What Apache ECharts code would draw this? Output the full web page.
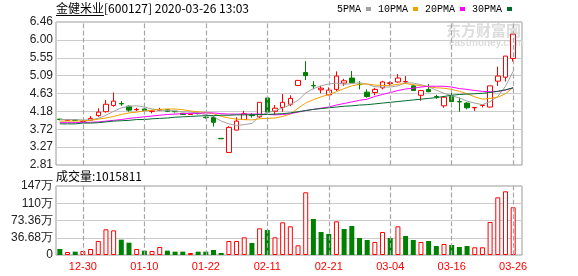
<!DOCTYPE html>
<html><head><meta charset="utf-8">
<script src="https://cdn.jsdelivr.net/npm/echarts/dist/echarts.min.js"></script>
<style>html,body{margin:0;padding:0;background:#fff}#c{width:578px;height:276px}</style>
</head><body><div id="c"></div>
<script>
const dates = ['12-25','12-26','12-27','12-30','12-31','01-02','01-03','01-06','01-07','01-08','01-09','01-10','01-13','01-14','01-15','01-16','01-17','01-20','01-21','01-22','01-23','02-03','02-04','02-05','02-06','02-07','02-10','02-11','02-12','02-13','02-14','02-17','02-18','02-19','02-20','02-21','02-24','02-25','02-26','02-27','02-28','03-02','03-03','03-04','03-05','03-06','03-09','03-10','03-11','03-12','03-13','03-16','03-17','03-18','03-19','03-20','03-23','03-24','03-25','03-26'];
const opens  = [3.98,3.95,3.96,3.92,3.95,4.07,4.17,4.33,4.38,4.31,4.22,4.24,4.18,4.21,4.22,4.18,4.13,4.10,4.13,4.03,4.02,3.49,3.13,3.70,3.97,4.09,4.04,4.52,4.18,4.28,4.36,4.84,5.17,4.84,4.73,4.60,4.74,4.90,5.03,4.87,4.67,4.66,4.78,4.89,4.93,4.93,4.83,4.59,4.74,4.56,4.32,4.56,4.43,4.39,4.27,4.33,4.29,4.95,5.05,5.53];
const closes = [3.97,3.96,3.95,3.93,4.00,4.16,4.36,4.44,4.37,4.21,4.23,4.20,4.19,4.22,4.18,4.17,4.10,4.11,4.12,4.02,3.90,3.48,3.77,3.93,4.12,4.07,4.41,4.16,4.26,4.41,4.51,4.97,5.09,4.83,4.77,4.72,5.08,4.96,4.91,4.86,4.56,4.74,4.93,4.91,5.03,4.94,4.71,4.71,4.68,4.55,4.54,4.43,4.42,4.27,4.28,4.34,4.83,5.08,5.59,6.15];
const lows   = [3.95,3.95,3.94,3.90,3.94,4.04,4.15,4.30,4.32,4.17,4.19,4.19,4.13,4.20,4.16,4.15,4.09,4.09,4.10,3.99,3.79,3.48,3.13,3.70,3.96,4.02,4.01,4.15,4.09,4.17,4.31,4.84,4.98,4.74,4.64,4.59,4.70,4.83,4.90,4.74,4.53,4.59,4.74,4.82,4.91,4.88,4.70,4.45,4.67,4.50,4.27,4.42,4.17,4.23,4.19,4.28,4.28,4.83,4.94,5.45];
const highs  = [3.99,3.96,3.97,3.95,4.06,4.26,4.47,4.66,4.44,4.33,4.27,4.25,4.21,4.27,4.23,4.19,4.14,4.12,4.14,4.05,4.06,3.49,3.80,4.03,4.19,4.13,4.41,4.53,4.34,4.62,4.59,4.97,5.46,4.95,4.83,4.79,5.20,5.01,5.21,4.95,4.74,4.78,4.96,4.94,5.13,5.08,4.85,4.71,4.88,4.60,4.55,4.68,4.53,4.41,4.28,4.34,4.83,5.32,5.59,6.15];
const ma5  = [3.97,3.97,3.97,3.96,3.96,4.00,4.08,4.18,4.27,4.31,4.32,4.29,4.24,4.21,4.20,4.19,4.17,4.16,4.14,4.10,4.05,3.93,3.86,3.82,3.84,3.87,4.06,4.14,4.20,4.26,4.35,4.46,4.65,4.76,4.83,4.88,4.90,4.87,4.89,4.91,4.87,4.81,4.80,4.80,4.83,4.91,4.90,4.86,4.81,4.72,4.64,4.58,4.52,4.44,4.39,4.35,4.43,4.56,4.82,5.20];
const ma10 = [3.93,3.93,3.93,3.94,3.95,3.98,4.01,4.05,4.10,4.14,4.16,4.19,4.21,4.23,4.24,4.24,4.22,4.19,4.17,4.15,4.12,4.05,4.01,3.98,3.97,3.96,3.99,4.00,4.01,4.05,4.11,4.26,4.39,4.48,4.55,4.61,4.68,4.76,4.83,4.87,4.88,4.85,4.84,4.84,4.87,4.89,4.86,4.83,4.81,4.78,4.77,4.74,4.69,4.63,4.55,4.49,4.51,4.54,4.63,4.79];
const ma20 = [3.89,3.89,3.89,3.90,3.90,3.91,3.93,3.95,3.97,4.00,4.02,4.04,4.06,4.08,4.10,4.11,4.12,4.13,4.13,4.14,4.14,4.12,4.11,4.11,4.11,4.11,4.11,4.10,4.09,4.10,4.12,4.16,4.20,4.23,4.26,4.29,4.34,4.38,4.42,4.46,4.49,4.56,4.61,4.66,4.71,4.75,4.77,4.80,4.82,4.82,4.82,4.80,4.76,4.74,4.71,4.69,4.68,4.69,4.72,4.78];
const ma30 = [3.86,3.86,3.86,3.88,3.88,3.89,3.91,3.93,3.94,3.95,3.97,3.97,3.99,4.00,4.01,4.03,4.04,4.05,4.06,4.07,4.07,4.08,4.08,4.09,4.09,4.09,4.10,4.10,4.11,4.12,4.14,4.17,4.20,4.23,4.25,4.27,4.29,4.31,4.32,4.34,4.35,4.37,4.39,4.41,4.43,4.45,4.47,4.49,4.51,4.53,4.56,4.59,4.61,4.62,4.63,4.64,4.66,4.69,4.73,4.78];
const volumes = [12.8,6.4,7.1,8.5,12.8,29.8,54.6,52.4,32.6,26.2,12.8,9.2,8.5,17.0,9.2,7.1,7.1,4.3,7.1,7.1,10.6,4.3,29.8,29.8,37.6,25.5,56.7,53.2,37.6,69.5,61.0,20.6,133.3,76.5,48.9,44.7,71.6,55.3,61.7,36.1,31.9,27.6,48.9,36.1,61.0,40.4,31.9,27.6,29.8,19.1,23.4,21.3,17.0,19.1,16.4,16.4,70.2,122.6,135.4,101.6];
const volDir = ['d','u','d','u','u','u','u','u','d','d','u','d','u','u','d','d','d','u','d','d','d','d','u','u','u','d','u','d','u','u','u','u','u','d','d','d','u','d','d','d','d','u','u','d','u','d','d','u','d','d','u','d','d','d','u','u','u','u','u','u'];
const priceTicks = ['2.81','3.27','3.72','4.18','4.63','5.09','5.55','6.00','6.46'];
const volTicks = ['0','36.68万','73.36万','110万','147万'];
const maNames = ['5PMA','10PMA','20PMA','30PMA'];
const maColors = ['#a0a0a0','#f0a000','#ff00ff','#006a30'];
const titleName = '金健米业';
const titleRest = '[600127] 2020-03-26 13:03';
const volTitle = '成交量:1015811';
const firstLabelIdx = 3, labelStep = 8;
const gridDates = dates.filter((d, i) => (i - firstLabelIdx) % labelStep === 0);

const UP = '#ff0000', DOWN = '#008000';
const tickInt = (idx) => (idx - firstLabelIdx) % labelStep === 0;
const vLines = (yIdx) => ({
  type:'line', name:'grid' + yIdx, xAxisIndex: yIdx, yAxisIndex: yIdx, data: dates.map(()=>null), silent:true, z:1, symbol:'none',
  markLine:{silent:true, symbol:['none','none'], label:{show:false}, animation:false,
    lineStyle:{color:'#a6a6a6', type:'dashed', width:1.2},
    data: gridDates.map(d => ({xAxis: d}))}
});
const chart = echarts.init(document.getElementById('c'), null, {renderer:'canvas'});
const maSeries = [ma5, ma10, ma20, ma30].map((d, k) => ({
  type:'line', name: maNames[k], xAxisIndex:1, yAxisIndex:1, data:d, symbol:'none',
  color: maColors[k], lineStyle:{width:1, color: maColors[k]}, z:3, silent:true
}));
chart.setOption({
  animation:false,
  textStyle:{fontFamily:'Liberation Sans'},
  grid:[
    {left:56, top:22, width:466, height:143, show:true, borderColor:'#999', borderWidth:1, backgroundColor:'rgba(0,0,0,0)'},
    {left:56, top:22, width:461, height:143},
    {left:56, top:186, width:466, height:69, show:true, borderColor:'#999', borderWidth:1, backgroundColor:'rgba(0,0,0,0)'},
    {left:56, top:186, width:461, height:69}
  ],
  legend:{data:maNames, left:337, top:4, align:'right', icon:'rect', itemWidth:5, itemHeight:4, itemGap:7, padding:0, selectedMode:false,
    textStyle:{fontFamily:'Liberation Mono', fontSize:10, color:'#000'}},
  xAxis:[
    {gridIndex:0, type:'value', show:false, min:0, max:1},
    {gridIndex:1, type:'category', data:dates, boundaryGap:true, axisLine:{show:false}, axisTick:{show:false}, axisLabel:{show:false}, splitLine:{show:false}},
    {gridIndex:2, type:'value', show:false, min:0, max:1},
    {gridIndex:3, type:'category', data:dates, boundaryGap:true, axisLine:{show:false}, axisTick:{show:false}, splitLine:{show:false},
      axisLabel:{interval:tickInt, color:'#ff0000', fontSize:11, fontFamily:'Liberation Sans', margin:6, hideOverlap:false}}
  ],
  yAxis:[
    {gridIndex:0, type:'value', min:0, max:8, interval:1, axisLine:{show:false}, axisTick:{show:false},
      axisLabel:{formatter:(v)=>priceTicks[v], margin:3, color:'#222', fontSize:12, fontFamily:'Liberation Sans'},
      splitLine:{show:true, lineStyle:{color:'#cccccc', width:1}}},
    {gridIndex:1, type:'value', min:2.81, max:6.46, show:false, scale:true},
    {gridIndex:2, type:'value', min:0, max:4, interval:1, axisLine:{show:false}, axisTick:{show:false},
      axisLabel:{formatter:(v)=>volTicks[v], margin:3, color:'#222', fontSize:12, fontFamily:'Liberation Sans'},
      splitLine:{show:true, lineStyle:{color:'#cccccc', width:1}}},
    {gridIndex:3, type:'value', min:0, max:146.72, show:false}
  ],
  graphic:[
    {type:'text', left:446, top:23, z:0, silent:true, style:{text:'东方财富网', font:'bold 15px "Noto Sans CJK SC"', fill:'#dcdcdc'}},
    {type:'text', left:449, top:38, z:0, silent:true, style:{text:'eastmoney.com', font:'bold 10px "Liberation Sans"', fill:'#dcdcdc'}},
    {type:'text', left:56, top:2, style:{text:titleName + titleRest, font:'12px "Noto Sans CJK SC"', fill:'#000'}},
    {type:'line', shape:{x1:56, y1:15.5, x2:104, y2:15.5}, style:{stroke:'#000', lineWidth:1}},
    {type:'text', left:56, top:170, style:{text:volTitle, font:'12px "Noto Sans CJK SC"', fill:'#000'}}
  ],
  series:[
    vLines(1),
    vLines(3),
    {type:'candlestick', name:'K', xAxisIndex:1, yAxisIndex:1, barWidth:5, silent:true, z:2,
      data: opens.map((o,i)=>[o, closes[i], lows[i], highs[i]]),
      itemStyle:{color:'#ffffff', color0:DOWN, borderColor:UP, borderColor0:DOWN, borderWidth:1}},
    ...maSeries,
    {type:'bar', name:'VOL', xAxisIndex:3, yAxisIndex:3, barWidth:5, silent:true, z:2,
      data: volumes.map((v,i)=>({value:v, itemStyle: volDir[i]==='u' ? {color:'#ffffff', borderColor:UP, borderWidth:1} : {color:DOWN}}))}
  ]
});
</script></body></html>
